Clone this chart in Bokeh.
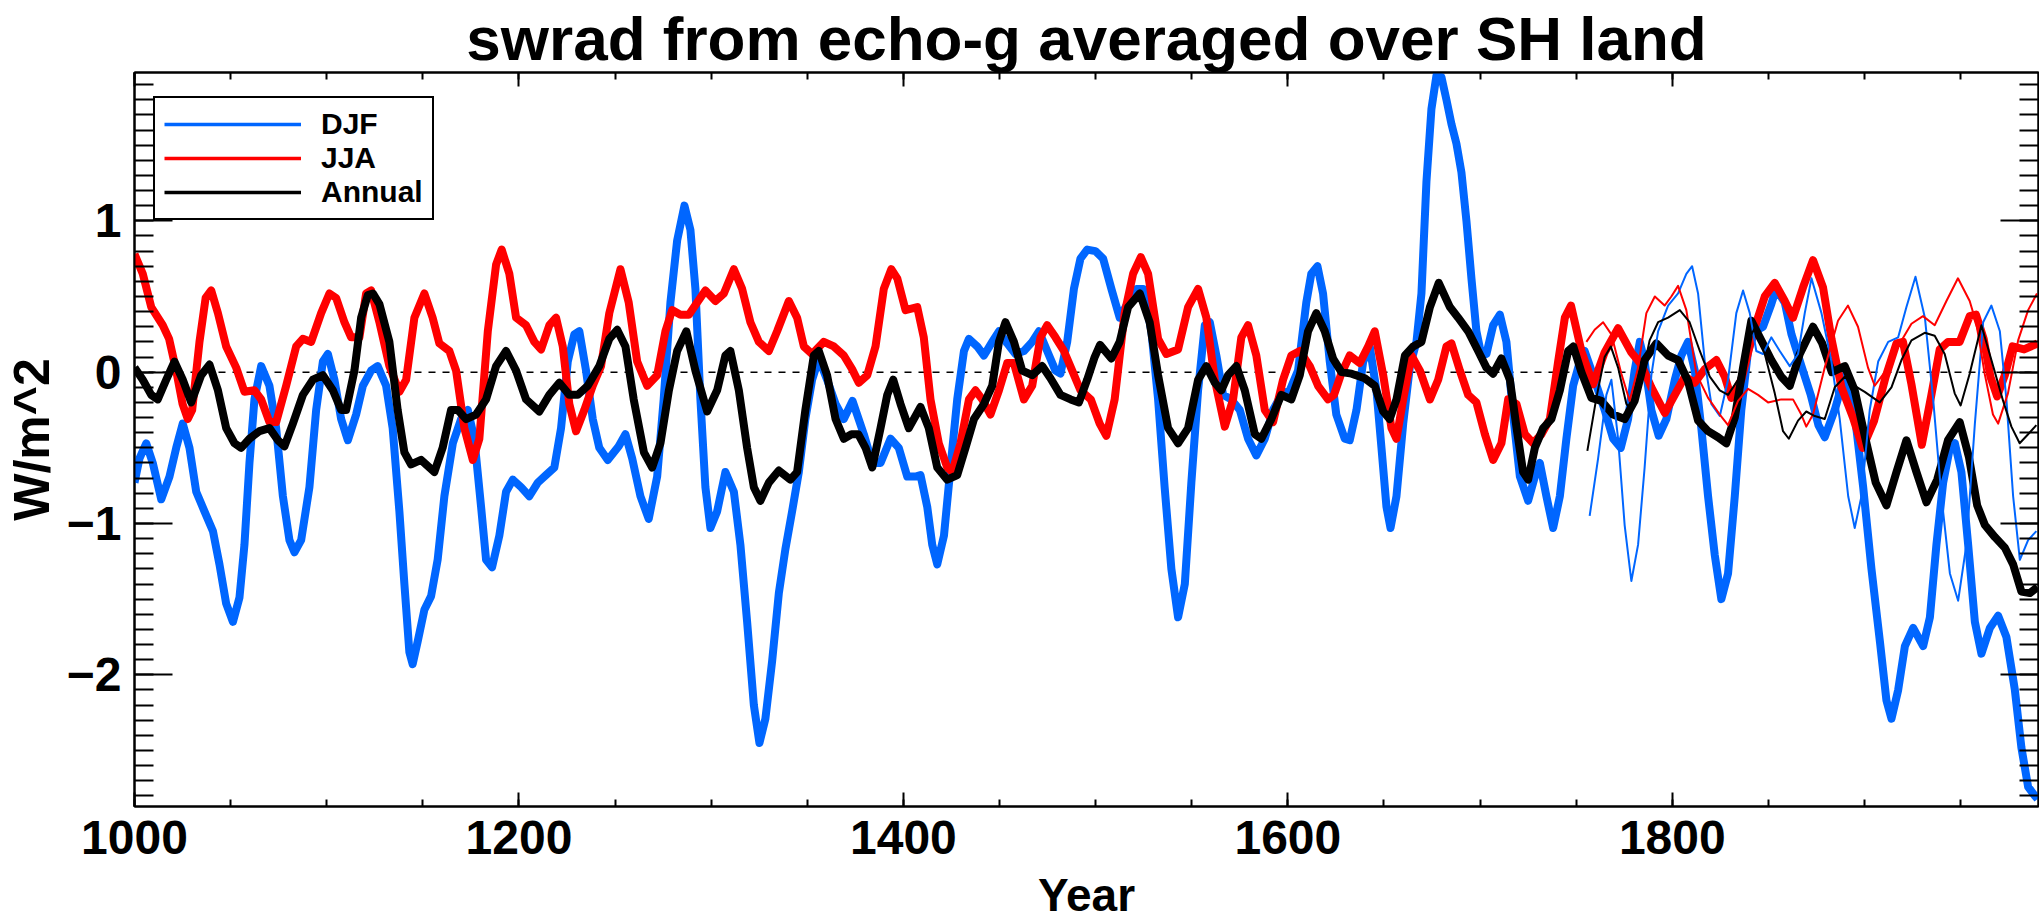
from bokeh.plotting import figure
from bokeh.models import (Range1d, LinearAxis, SingleIntervalTicker, Span,
                          Legend, LegendItem)
from bokeh.embed import file_html
from bokeh.resources import INLINE

TITLE = "swrad from echo-g averaged over SH land"
X_LABEL = "Year"
Y_LABEL = "W/m^2"
SERIES_LABELS = ["DJF", "JJA", "Annual"]

# ---- thick series (model) ----
djf_year = [1000, 1002.6, 1006.1, 1009.5, 1013.9, 1018.2, 1021.7, 1025.1, 1028.6, 1032.1,
            1036.4, 1040.8, 1044.2, 1047.7, 1051.2, 1054.6, 1057.2, 1059.8, 1062.4, 1065.9,
            1070.2, 1073.7, 1077.2, 1080.6, 1083.2, 1086.7, 1091, 1094.5, 1098, 1100.6,
            1104, 1107.5, 1111, 1115.3, 1118.8, 1123.1, 1126.5, 1130.9, 1134.3, 1137.8,
            1140.4, 1143, 1144.7, 1147.3, 1150.8, 1154.3, 1157.7, 1161.2, 1165.6, 1169.9,
            1173.4, 1176.8, 1180.3, 1182.9, 1186, 1189.8, 1193.3, 1196.8, 1201.1, 1205.4,
            1209.8, 1214.1, 1218.4, 1221.9, 1225.4, 1228.8, 1231.4, 1234.9, 1238.4, 1241.8,
            1246.2, 1251.9, 1255.4, 1258.9, 1263.2, 1267.5, 1271.9, 1275.3, 1278.8, 1282.3,
            1286.1, 1289.2, 1291.8, 1294.4, 1297, 1299.6, 1303.1, 1307.4, 1311.8, 1315.2,
            1318.7, 1322.2, 1325.1, 1328.2, 1331.7, 1335.2, 1338.6, 1342.1, 1345.6, 1349,
            1352.5, 1356, 1360.3, 1364.7, 1369, 1373.5, 1379.4, 1383.8, 1388.1, 1393.3,
            1397.6, 1402, 1406.3, 1408.9, 1412.4, 1415, 1417.6, 1421.1, 1424.5, 1428,
            1431.5, 1434.1, 1438.4, 1441.9, 1446.2, 1449.7, 1454, 1458.3, 1462.7, 1467,
            1470.5, 1474.8, 1479.1, 1481.7, 1485.2, 1488.7, 1492.1, 1495.6, 1499.9, 1503.9,
            1508.2, 1512.5, 1516.9, 1521.2, 1524.7, 1529, 1532.5, 1535.9, 1539.4, 1542.9,
            1546.4, 1549.8, 1553.3, 1556.8, 1559.4, 1562.8, 1566.3, 1570.6, 1575, 1579.3,
            1583.6, 1588, 1592.3, 1596.6, 1601, 1605.3, 1609.6, 1612.2, 1615.4, 1618.3,
            1621.8, 1625.2, 1629.6, 1632.2, 1635.7, 1639.2, 1642.6, 1646.1, 1648.7, 1651.3,
            1653.4, 1656.5, 1660, 1663.5, 1666.9, 1669.5, 1672.1, 1674.7, 1677.3, 1679.9,
            1682.5, 1685.1, 1687.7, 1690.3, 1692.9, 1695.5, 1698.1, 1700.7, 1703.3, 1706.8,
            1710.3, 1713.7, 1717.2, 1720.7, 1725, 1728.5, 1731.1, 1734.5, 1738, 1741.5,
            1744.9, 1748.4, 1751.9, 1754.4, 1759.6, 1764.8, 1769.2, 1773.2, 1777, 1780.4,
            1783.1, 1785.6, 1789.1, 1792.9, 1796.9, 1801.3, 1804.7, 1808.2, 1811.7, 1815.1,
            1818.6, 1822.1, 1825.5, 1829, 1832.5, 1835.9, 1839.4, 1843, 1847.2, 1851.5,
            1854, 1858.5, 1862, 1867.2, 1872, 1876, 1879.3, 1884.5, 1889.7, 1894.9,
            1899.3, 1903.6, 1908, 1911.4, 1914, 1917.5, 1921, 1925.3, 1930.5, 1934,
            1937.4, 1940.9, 1944.4, 1947, 1950.4, 1953.9, 1957.4, 1960.8, 1965.2, 1969.5,
            1973.8, 1978.2, 1981.6, 1985.1, 1988.6, 1990]
djf_val = [-0.73, -0.57, -0.47, -0.6, -0.84, -0.69, -0.5, -0.34, -0.5, -0.79,
           -0.92, -1.05, -1.27, -1.53, -1.65, -1.49, -1.14, -0.6, -0.18, 0.04,
           -0.09, -0.37, -0.82, -1.11, -1.19, -1.11, -0.76, -0.25, 0.07, 0.12,
           -0.05, -0.31, -0.45, -0.28, -0.09, 0.01, 0.04, -0.09, -0.37, -0.92,
           -1.4, -1.85, -1.93, -1.78, -1.57, -1.48, -1.24, -0.82, -0.47, -0.31,
           -0.25, -0.44, -0.89, -1.24, -1.29, -1.08, -0.79, -0.71, -0.76, -0.82,
           -0.73, -0.68, -0.63, -0.37, 0.07, 0.25, 0.27, 0.01, -0.31, -0.5,
           -0.58, -0.49, -0.41, -0.57, -0.82, -0.97, -0.69, -0.18, 0.46, 0.87,
           1.1, 0.94, 0.55, -0.18, -0.76, -1.03, -0.92, -0.66, -0.79, -1.14,
           -1.65, -2.2, -2.45, -2.29, -1.91, -1.46, -1.17, -0.92, -0.66, -0.31,
           -0.05, 0.09, -0.05, -0.21, -0.31, -0.19, -0.41, -0.6, -0.6, -0.44,
           -0.5, -0.69, -0.69, -0.68, -0.89, -1.14, -1.27, -1.08, -0.63, -0.18,
           0.14, 0.22, 0.17, 0.11, 0.2, 0.27, 0.19, 0.12, 0.14, 0.2,
           0.27, 0.14, 0.01, -0.01, 0.2, 0.55, 0.75, 0.81, 0.8, 0.75,
           0.55, 0.36, 0.46, 0.55, 0.55, 0.27, -0.18, -0.76, -1.3, -1.62,
           -1.4, -0.73, -0.12, 0.31, 0.33, 0.11, -0.15, -0.18, -0.25, -0.44,
           -0.55, -0.44, -0.25, -0.15, -0.12, 0.01, 0.46, 0.65, 0.7, 0.52,
           0.07, -0.28, -0.44, -0.45, -0.25, 0.07, 0.17, -0.12, -0.5, -0.89,
           -1.03, -0.82, -0.34, 0.04, 0.2, 0.52, 1.26, 1.74, 1.96, 1.95,
           1.8, 1.64, 1.51, 1.32, 1.0, 0.62, 0.27, 0.11, 0.12, 0.31,
           0.38, 0.2, -0.28, -0.69, -0.85, -0.69, -0.6, -0.82, -1.03, -0.82,
           -0.44, -0.09, 0.07, 0.14, -0.05, -0.25, -0.44, -0.5, -0.31, 0.01,
           0.2, 0.07, -0.25, -0.42, -0.31, -0.05, 0.11, 0.2, 0.01, -0.37,
           -0.82, -1.21, -1.5, -1.33, -0.82, -0.25, 0.14, 0.27, 0.3, 0.45,
           0.55, 0.46, 0.25, 0.04, -0.15, -0.35, -0.43, -0.25, -0.02, -0.28,
           -0.76, -1.3, -1.78, -2.17, -2.29, -2.1, -1.81, -1.69, -1.81, -1.62,
           -1.14, -0.73, -0.5, -0.47, -0.66, -1.14, -1.65, -1.86, -1.69, -1.61,
           -1.75, -2.1, -2.48, -2.74, -2.8, -2.82]

jja_year = [1000, 1004.3, 1008.7, 1014.7, 1018, 1021.7, 1025, 1027.7, 1030, 1033.8,
            1037, 1039.9, 1043.4, 1047.7, 1052.9, 1057.2, 1062.4, 1065.9, 1070.2, 1073.7,
            1078.9, 1084.1, 1087.6, 1091.9, 1097.1, 1101.4, 1104.9, 1109.2, 1112.7, 1117,
            1120.5, 1123.1, 1127.4, 1132.6, 1137.8, 1141.3, 1145.6, 1150.8, 1155.1, 1158.6,
            1163.8, 1167.3, 1171.6, 1176, 1179.4, 1183.8, 1188.1, 1191, 1195, 1198.5,
            1203.7, 1208, 1211.5, 1215.8, 1219.3, 1222.8, 1226.2, 1229.7, 1234, 1238.4,
            1242.7, 1247, 1252.8, 1257.1, 1261.5, 1266.7, 1271.9, 1276.2, 1279.7, 1284,
            1288.4, 1292.7, 1297, 1302.2, 1306.6, 1311.8, 1316.1, 1320.4, 1324.8, 1330,
            1334.3, 1340.4, 1344.7, 1348.2, 1352.5, 1358.6, 1363.8, 1369, 1373.3, 1376.8,
            1381.2, 1385.5, 1389.8, 1393.7, 1396.8, 1401.1, 1407.2, 1410.6, 1414.1, 1418.4,
            1422.8, 1425.4, 1429.7, 1434.1, 1437.5, 1441, 1445.3, 1449.7, 1454, 1457.5,
            1462.7, 1467, 1471.3, 1474.8, 1479.1, 1483.5, 1487.8, 1492.1, 1497.5, 1502.1,
            1505.6, 1509.9, 1515.1, 1519.5, 1523.5, 1527.3, 1532.5, 1536.8, 1542.9, 1548.1,
            1553.3, 1557.6, 1562, 1567.2, 1571.5, 1575.8, 1579.3, 1583.6, 1588, 1592.3,
            1597.5, 1601.8, 1606.2, 1611.4, 1615.7, 1620.9, 1624, 1627.5, 1632.2, 1637.4,
            1641.8, 1645.2, 1649.6, 1653.9, 1656.5, 1660, 1664.3, 1668.7, 1673.9, 1678.2,
            1682.5, 1685.1, 1689.5, 1693.8, 1698.1, 1702.5, 1706.8, 1711.1, 1714.6, 1718.9,
            1723.3, 1727.6, 1731.9, 1736.3, 1740.6, 1744.1, 1747.3, 1752.7, 1758.8, 1764.8,
            1771.8, 1778.7, 1783.9, 1789.1, 1796.1, 1801.3, 1806.5, 1811.7, 1816.9, 1822.9,
            1827.3, 1830.7, 1835.9, 1842, 1848.1, 1853.3, 1858.5, 1862.8, 1868, 1873.2,
            1878.4, 1882.8, 1888, 1894, 1899, 1905, 1911, 1916.6, 1920, 1924.4,
            1929.8, 1934.8, 1939.1, 1943.4, 1949.5, 1954.7, 1958, 1962, 1965.5, 1969,
            1973, 1977, 1983, 1990]
jja_val = [0.78, 0.65, 0.43, 0.31, 0.22, 0.01, -0.21, -0.31, -0.25, 0.2,
           0.49, 0.54, 0.39, 0.17, 0.03, -0.13, -0.12, -0.18, -0.33, -0.33,
           -0.09, 0.17, 0.22, 0.2, 0.39, 0.52, 0.49, 0.33, 0.23, 0.23,
           0.52, 0.54, 0.33, 0.04, -0.13, -0.05, 0.36, 0.52, 0.36, 0.19,
           0.14, 0.01, -0.37, -0.58, -0.44, 0.27, 0.71, 0.81, 0.65, 0.36,
           0.31, 0.2, 0.15, 0.31, 0.36, 0.17, -0.21, -0.39, -0.25, -0.09,
           0.04, 0.39, 0.68, 0.46, 0.07, -0.09, -0.02, 0.27, 0.41, 0.38,
           0.38, 0.46, 0.54, 0.47, 0.52, 0.68, 0.55, 0.33, 0.2, 0.14,
           0.27, 0.47, 0.36, 0.17, 0.12, 0.2, 0.17, 0.11, 0.02, -0.07,
           -0.02, 0.17, 0.55, 0.68, 0.62, 0.41, 0.43, 0.23, -0.18, -0.47,
           -0.63, -0.66, -0.47, -0.18, -0.12, -0.18, -0.28, -0.12, 0.06, 0.06,
           -0.18, -0.09, 0.23, 0.31, 0.23, 0.14, 0.01, -0.12, -0.18, -0.34,
           -0.42, -0.18, 0.39, 0.65, 0.76, 0.65, 0.22, 0.12, 0.15, 0.43,
           0.55, 0.36, -0.05, -0.36, -0.18, 0.23, 0.31, 0.11, -0.25, -0.33,
           -0.05, 0.11, 0.14, 0.04, -0.09, -0.18, -0.15, -0.02, 0.11, 0.06,
           0.17, 0.27, -0.02, -0.37, -0.44, -0.18, 0.11, 0.01, -0.18, -0.05,
           0.17, 0.19, 0.01, -0.15, -0.2, -0.41, -0.58, -0.47, -0.18, -0.21,
           -0.41, -0.47, -0.41, -0.31, 0.07, 0.36, 0.44, 0.14, -0.08, 0.13,
           0.29, 0.13, 0.05, -0.1, -0.27, -0.15, -0.03, -0.07, 0.02, 0.08,
           -0.03, -0.17, -0.05, 0.26, 0.5, 0.59, 0.47, 0.36, 0.56, 0.74,
           0.56, 0.22, -0.1, -0.3, -0.5, -0.32, -0.03, 0.19, 0.2, -0.08,
           -0.48, -0.15, 0.15, 0.2, 0.2, 0.37, 0.38, 0.22, -0.03, -0.16,
           -0.02, 0.17, 0.15, 0.19]

ann_year = [1000, 1004.3, 1008.7, 1012.1, 1016.5, 1020.8, 1025.1, 1029.5, 1034.7, 1039,
            1043.4, 1047.7, 1052, 1055.5, 1059.8, 1065, 1070.2, 1074.6, 1078, 1082.4,
            1087.6, 1092.8, 1098, 1103.2, 1107.5, 1110.1, 1114.4, 1117.9, 1121.4, 1124,
            1127.4, 1132.6, 1136.9, 1140.4, 1143.9, 1149.1, 1156, 1160.3, 1164.7, 1168.2,
            1172.5, 1177.7, 1182.9, 1188.1, 1193.3, 1198.5, 1203.7, 1210.6, 1215.8, 1221,
            1226.2, 1230.6, 1235.8, 1241.8, 1247, 1251.1, 1255.4, 1259.7, 1265, 1269.3,
            1273.6, 1278, 1282.3, 1287.1, 1291.8, 1297.9, 1303.1, 1307.4, 1310, 1314.4,
            1318.7, 1322.2, 1325.6, 1330, 1335.2, 1341.2, 1344.7, 1349, 1353.4, 1356,
            1360.3, 1364.7, 1369, 1373, 1376.5, 1380.3, 1383.8, 1388.1, 1391.6, 1394.7,
            1398.5, 1402.8, 1408.9, 1413.2, 1417.6, 1422.8, 1428, 1432.3, 1436.7, 1441.9,
            1446.2, 1449.7, 1453.1, 1457.5, 1461.8, 1467, 1472.2, 1476.5, 1481.7, 1487,
            1491.3, 1495.6, 1499.5, 1502.3, 1508.2, 1512.5, 1516.9, 1523, 1528.1, 1532.5,
            1537.7, 1542.9, 1548.1, 1553.3, 1557.6, 1562, 1565.4, 1568.9, 1573.2, 1577.6,
            1582.8, 1586.2, 1591.4, 1596.6, 1601.8, 1606.2, 1610.5, 1614.8, 1619.2, 1623.5,
            1627.9, 1633.1, 1640, 1645.2, 1649.6, 1653, 1656.5, 1660.9, 1665.2, 1669.5,
            1673.9, 1678.5, 1684.3, 1688.6, 1693.8, 1699, 1703.3, 1706.8, 1711.1, 1715.5,
            1719, 1722.4, 1725, 1728.5, 1732.8, 1737.1, 1741.5, 1745.8, 1748.5, 1752.7,
            1757.9, 1763.1, 1769.2, 1775.2, 1780.4, 1785.6, 1791.7, 1797.8, 1803, 1808.2,
            1813.4, 1818.6, 1823.8, 1828.1, 1832.5, 1836.8, 1841.1, 1846.3, 1851.5, 1856.7,
            1861.1, 1866.3, 1873.2, 1878, 1883, 1889.7, 1894.9, 1900.1, 1905.8, 1911.4,
            1916.6, 1921.8, 1927, 1932.2, 1937.8, 1943.4, 1949.5, 1954.3, 1958.6, 1962.6,
            1967.8, 1973, 1977.3, 1981.6, 1986, 1990]
ann_val = [0.03, -0.05, -0.15, -0.18, -0.05, 0.07, -0.05, -0.2, -0.02, 0.05,
           -0.12, -0.37, -0.47, -0.5, -0.44, -0.39, -0.37, -0.45, -0.49, -0.34,
           -0.15, -0.05, -0.02, -0.12, -0.25, -0.25, 0.01, 0.36, 0.51, 0.52,
           0.45, 0.2, -0.25, -0.53, -0.61, -0.58, -0.66, -0.5, -0.25, -0.25,
           -0.31, -0.28, -0.18, 0.04, 0.14, 0.01, -0.18, -0.26, -0.15, -0.07,
           -0.15, -0.15, -0.09, 0.04, 0.22, 0.28, 0.17, -0.18, -0.53, -0.63,
           -0.47, -0.12, 0.14, 0.27, 0.01, -0.26, -0.12, 0.11, 0.14, -0.12,
           -0.5, -0.76, -0.85, -0.73, -0.65, -0.71, -0.66, -0.25, 0.11, 0.14,
           -0.02, -0.31, -0.44, -0.41, -0.41, -0.5, -0.63, -0.37, -0.15, -0.05,
           -0.21, -0.37, -0.23, -0.37, -0.63, -0.71, -0.68, -0.5, -0.31, -0.21,
           -0.09, 0.2, 0.33, 0.2, 0.01, -0.02, 0.04, -0.04, -0.15, -0.18,
           -0.2, -0.05, 0.1, 0.18, 0.09, 0.2, 0.43, 0.52, 0.33, -0.02,
           -0.37, -0.47, -0.37, -0.05, 0.04, -0.07, -0.12, -0.02, 0.04, -0.12,
           -0.41, -0.44, -0.31, -0.15, -0.18, -0.02, 0.27, 0.39, 0.27, 0.09,
           0.0, -0.01, -0.04, -0.09, -0.26, -0.31, -0.18, 0.11, 0.17, 0.2,
           0.43, 0.59, 0.43, 0.36, 0.27, 0.14, 0.03, -0.01, 0.09, -0.05,
           -0.37, -0.66, -0.71, -0.5, -0.37, -0.31, -0.12, 0.14, 0.17, 0.0,
           -0.17, -0.19, -0.28, -0.31, -0.19, 0.08, 0.19, 0.11, 0.08, -0.06,
           -0.32, -0.39, -0.43, -0.47, -0.3, 0.03, 0.34, 0.21, 0.08, -0.03,
           -0.09, 0.12, 0.3, 0.19, 0.0, 0.04, -0.12, -0.42, -0.73, -0.88,
           -0.66, -0.45, -0.66, -0.86, -0.71, -0.45, -0.33, -0.56, -0.88, -1.01,
           -1.09, -1.16, -1.27, -1.45, -1.46, -1.42]

# ---- thin series (from about 1756) ----
djf2_year = [1757, 1761.4, 1765.7, 1768.3, 1771.8, 1775.2, 1778.7, 1782.2, 1785.6, 1789.1,
             1792.6, 1797.8, 1803, 1807.3, 1810.3, 1813.4, 1816.9, 1820.3, 1824.7, 1829,
             1833.3, 1836.8, 1840.3, 1843.7, 1847.2, 1851.5, 1855.9, 1861.1, 1865.4, 1868.9,
             1872.4, 1877.6, 1882.8, 1887.1, 1891.5, 1894.9, 1898.4, 1902.7, 1907.1, 1912.3,
             1917.5, 1921.8, 1926.5, 1931.4, 1935.7, 1940, 1944.4, 1948.7, 1953, 1957.4,
             1961.7, 1966, 1970.4, 1973.8, 1977.3, 1980.8, 1985.1, 1989.4]
djf2_val = [-0.95, -0.57, -0.15, -0.05, -0.44, -1.01, -1.38, -1.14, -0.63, -0.02,
            0.27, 0.44, 0.52, 0.65, 0.7, 0.52, 0.07, -0.21, -0.29, -0.05,
            0.39, 0.54, 0.39, 0.14, 0.12, 0.23, 0.14, 0.04, 0.12, 0.39,
            0.62, 0.39, 0.07, -0.31, -0.82, -1.03, -0.82, -0.25, 0.07, 0.2,
            0.23, 0.43, 0.63, 0.36, -0.18, -0.82, -1.33, -1.51, -1.14, -0.34,
            0.33, 0.44, 0.27, -0.18, -0.82, -1.24, -1.11, -1.05]

jja2_year = [1755.3, 1759.6, 1764, 1768.3, 1773.5, 1777.8, 1782.2, 1786.5, 1790.9, 1796,
             1799.5, 1803, 1807.3, 1812.5, 1818.6, 1824.7, 1829, 1834.2, 1839.4, 1844.6,
             1849.8, 1856.7, 1862.8, 1867.1, 1869.7, 1873.2, 1879.3, 1886.2, 1891.4, 1896.6,
             1901.8, 1905.3, 1910.5, 1917.4, 1924.4, 1930.4, 1936.5, 1942.6, 1948.6, 1954.7,
             1958.2, 1962.5, 1966.8, 1969.5, 1974.6, 1979.9, 1985.1, 1989.7]
jja2_val = [0.2, 0.28, 0.33, 0.25, -0.01, -0.19, 0.03, 0.39, 0.5, 0.44,
            0.5, 0.57, 0.41, -0.01, -0.17, -0.28, -0.35, -0.19, -0.11, -0.15,
            -0.2, -0.18, -0.18, -0.28, -0.36, -0.28, 0.03, 0.34, 0.44, 0.3,
            0.03, -0.09, 0.0, 0.17, 0.32, 0.37, 0.31, 0.47, 0.62, 0.47,
            0.32, -0.01, -0.28, -0.34, -0.14, 0.21, 0.41, 0.52]

ann2_year = [1755.8, 1760.5, 1764.8, 1768, 1771.8, 1776.1, 1778.7, 1783.1, 1788.2, 1792.6,
             1797.8, 1803.9, 1809, 1814.3, 1819.5, 1824.7, 1829, 1834.2, 1839.4, 1842.9,
             1848.1, 1853.3, 1857.6, 1860.6, 1865.4, 1869.7, 1874.1, 1879.3, 1884.5, 1889.7,
             1894.9, 1900.1, 1907.9, 1914, 1919.2, 1924.4, 1931.3, 1936.5, 1941.7, 1946.9,
             1950, 1954.7, 1960.8, 1966, 1972.1, 1976.4, 1980.7, 1985.1, 1989.4]
ann2_val = [-0.52, -0.17, 0.1, 0.17, 0.03, -0.21, -0.25, -0.1, 0.21, 0.33,
            0.36, 0.41, 0.33, 0.14, -0.03, -0.12, -0.15, -0.05, 0.21, 0.29,
            0.12, -0.14, -0.39, -0.44, -0.32, -0.26, -0.29, -0.31, -0.1, -0.03,
            -0.09, -0.13, -0.2, -0.1, 0.08, 0.21, 0.26, 0.24, 0.12, -0.14,
            -0.22, -0.01, 0.31, 0.08, -0.19, -0.36, -0.47, -0.41, -0.35]

X_RANGE = (1000, 1990.5)
Y_RANGE = (-2.87, 1.98)
X_MAJOR, X_MINOR_N = 200, 4
Y_MAJOR, Y_MINOR_N = 1, 10

# ---- layout / style ----
BLUE, RED, BLACK = "#0066ff", "#ff0000", "#000000"
FONT = "Liberation Sans"
W, H = 2039, 924
BL, BR, BT, BB = 133, 1, 72, 118
FH = H - BT - BB
THICK, THIN, LEG_W = 8, 2, 3.5

p = figure(width=W, height=H, output_backend="svg", toolbar_location=None,
           x_range=Range1d(*X_RANGE), y_range=Range1d(*Y_RANGE),
           x_axis_type=None, y_axis_type=None,
           min_border_left=BL, min_border_right=BR, min_border_top=BT, min_border_bottom=BB)
p.outline_line_color = "black"
p.outline_line_width = 2
p.outline_line_alpha = 1.0
p.background_fill_color = "white"
p.border_fill_color = "white"

p.title.text = TITLE
p.title.align = "center"
p.title.text_font = FONT
p.title.text_font_style = "bold"
p.title.text_font_size = "62px"
p.title.text_color = "black"
p.title.standoff = 0
p.title.offset = 0


def make_axis(kind, show_labels, major_len, minor_len):
    if kind == "x":
        ticker = SingleIntervalTicker(interval=X_MAJOR, num_minor_ticks=X_MINOR_N)
    else:
        ticker = SingleIntervalTicker(interval=Y_MAJOR, num_minor_ticks=Y_MINOR_N)
    ax = LinearAxis(ticker=ticker)
    ax.axis_line_width = 2
    ax.axis_line_color = "black"
    ax.major_tick_in = major_len
    ax.major_tick_out = 0
    ax.minor_tick_in = minor_len
    ax.minor_tick_out = 0
    ax.major_tick_line_width = 2
    ax.minor_tick_line_width = 2
    ax.major_tick_line_color = "black"
    ax.minor_tick_line_color = "black"
    ax.major_label_text_font = FONT
    ax.major_label_text_font_style = "bold"
    ax.axis_label_text_font = FONT
    ax.axis_label_text_font_style = "bold"
    ax.axis_label_text_color = "black"
    if show_labels:
        ax.major_label_text_font_size = "48px"
        ax.major_label_text_color = "black"
    else:
        ax.major_label_text_font_size = "1px"
        ax.major_label_text_color = None
        ax.major_label_text_alpha = 0
        ax.major_label_standoff = 0
    return ax


xb = make_axis("x", True, 14, 7)
xb.major_label_standoff = 14
xb.axis_label = X_LABEL
xb.axis_label_text_font_size = "46px"
xb.axis_label_standoff = 12
p.add_layout(xb, "below")

xt = make_axis("x", False, 14, 7)
xt.major_label_standoff = 1
p.add_layout(xt, "above")

yl = make_axis("y", True, 38, 19)
yl.major_label_standoff = 13
yl.axis_label = Y_LABEL
yl.axis_label_text_font_size = "50px"
yl.axis_label_standoff = 4
p.add_layout(yl, "left")

yr = make_axis("y", False, 38, 19)
p.add_layout(yr, "right")

p.add_layout(Span(location=0, dimension="width", line_color="black", line_width=1.5,
                  line_dash="7 7", level="underlay"))

p.line(djf_year, djf_val, line_color=BLUE, line_width=THICK, line_join="round")
p.line(jja_year, jja_val, line_color=RED, line_width=THICK, line_join="round")
p.line(ann_year, ann_val, line_color=BLACK, line_width=THICK, line_join="round")
p.line(djf2_year, djf2_val, line_color=BLUE, line_width=THIN, line_join="round")
p.line(jja2_year, jja2_val, line_color=RED, line_width=THIN, line_join="round")
p.line(ann2_year, ann2_val, line_color=BLACK, line_width=THIN, line_join="round")

# legend swatches: single-point lines (draw nothing in the plot, only the key)
leg_r = [p.line([xs[0]], [ys[0]], line_color=c, line_width=LEG_W)
         for xs, ys, c in ((djf_year, djf_val, BLUE), (jja_year, jja_val, RED),
                           (ann_year, ann_val, BLACK))]
LEG_H = 118
legend = Legend(items=[LegendItem(label=lab, renderers=[r]) for lab, r in zip(SERIES_LABELS, leg_r)],
                location=(19, FH - 30 - LEG_H),
                border_line_color="black", border_line_width=2, border_line_alpha=1.0,
                background_fill_color="white", background_fill_alpha=1.0,
                padding=9, spacing=0, margin=0,
                glyph_width=137, glyph_height=28, label_standoff=20,
                label_text_font=FONT, label_text_font_style="bold",
                label_text_color="black",
                label_text_font_size="30px", label_height=28)
p.add_layout(legend)

open("out.html", "w").write(file_html(p, INLINE))
